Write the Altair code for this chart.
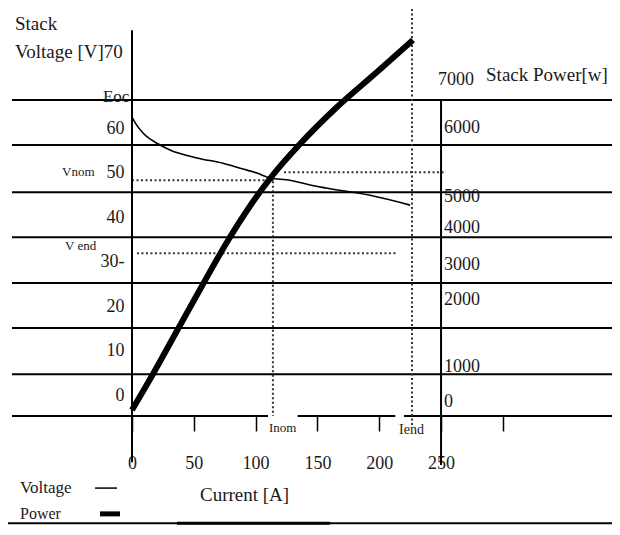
import altair as alt
import pandas as pd

SERIF = "Liberation Serif"
INK = "#1a1a1a"

# ---- curves ----
current_v = [0, 3, 8.9, 20.2, 30.7, 52.6, 73.6, 89.8, 101.1, 111.7, 127.8, 144.0, 157.8, 192.6, 225.0]
voltage = [62.5, 61.0, 58.9, 56.6, 55.1, 53.3, 52.1, 50.8, 49.9, 48.8, 48.3, 47.2, 46.5, 44.9, 42.7]
current_p = [0, 17.0, 37.2, 56.6, 76.9, 95.5, 113.3, 135.9, 165.0, 198.2, 227.3]
power = [160, 1120, 2320, 3467, 4640, 5600, 6400, 7253, 8213, 9173, 10027]

# ---- axis tick values ----
x_ticks = [0, 50, 100, 150, 200, 250, 300]
v_ticks = [0, 10, 20, 30, 40, 50, 60]
power_labels = ["7000", "6000", "5000", "4000", "3000", "2000", "1000", "0"]
power_label_v = [70.8, 60.0, 44.5, 37.5, 29.2, 21.4, 6.3, -1.6]
power_label_i = [247.6, 252.4, 252.4, 252.4, 252.4, 252.4, 252.4, 252.4]

# ---- horizontal grid lines (voltage units) ----
grid_v = [66.3, 56.2, 45.6, 35.5, 25.2, 15.1, 4.7, -4.7, -4.7, -4.7, -28.8]
grid_i1 = [-97.1, -97.1, -97.1, -97.1, -97.1, -97.1, -97.1, -97.1, 134, 220, -107]
grid_i2 = [395, 395, 395, 395, 395, 395, 395, 110, 213, 395, 395]

# ---- dotted marker lines ----
hdot_v = [48.3, 50.1, 31.9]
hdot_i1 = [0, 123, 4]
hdot_i2 = [115, 253, 215]
vdot_i = [114, 226.5]
vdot_v1 = [50.1, 88.8]
vdot_v2 = [-4.7, -6.7]

# ---- solid vertical axis lines ----
vline_i = [0, 250]
vline_v1 = [82.0, 66.3]
vline_v2 = [-15.1, -15.7]

# ---- legend swatches / thick bar ----
sw_v = [-20.9, -26.7, -28.8]
sw_i1 = [-29.9, -25.9, 36.4]
sw_i2 = [-12.1, -9.7, 160]
sw_w = [1.5, 5, 3]

# ---- free text ----
txt = ["Stack", "Voltage [V]70", "Eoc", "Vnom", "V end", "Inom", "Iend",
       "Stack Power[w]", "Current [A]", "Voltage", "Power"]
txt_i = [-94.7, -94.7, -23.5, -56.6, -54.2, 110.8, 216, 286.4, 55.0, -90.6, -90.6]
txt_v = [83.4, 77.1, 67.0, 50.1, 33.5, -7.4, -7.9, 71.9, -22.5, -20.9, -26.7]
txt_size = [19, 19, 17, 13, 13, 13, 14, 19, 19, 17, 16]

X_SCALE = alt.Scale(domain=[0, 388.3], nice=False, zero=False)
V_SCALE = alt.Scale(domain=[-4.7, 87.0], nice=False, zero=False)
P_SCALE = alt.Scale(domain=[0, 10880], nice=False, zero=False)

x_axis = alt.Axis(values=x_ticks, labelExpr="datum.value == 300 ? '' : datum.label",
                  domain=False, grid=False, tickSize=15, tickColor="black", tickWidth=1.5,
                  labelPadding=23, labelFontSize=18, labelFont=SERIF, labelColor=INK,
                  title=None, labelFlush=False, labelOverlap=False)
y_axis = alt.Axis(values=v_ticks, labelExpr="datum.value == 30 ? '30-' : datum.label",
                  domain=False, ticks=False, grid=False, labelPadding=8, labelFontSize=18,
                  labelFont=SERIF, labelColor=INK, title=None, labelOverlap=False,
                  labelBaseline="middle")


def X(f):
    return alt.X(f, type="quantitative", scale=X_SCALE, axis=x_axis)


def V(f):
    return alt.Y(f, type="quantitative", scale=V_SCALE, axis=y_axis)


grid_df = pd.DataFrame({"v": grid_v, "i1": grid_i1, "i2": grid_i2})
grid = alt.Chart(grid_df).mark_rule(color="black", strokeWidth=2, clip=False).encode(
    x=X("i1"), x2="i2", y=V("v"))

hdot_df = pd.DataFrame({"v": hdot_v, "i1": hdot_i1, "i2": hdot_i2})
hdot = alt.Chart(hdot_df).mark_rule(color="#333", strokeWidth=2, strokeDash=[2, 2.5], clip=False).encode(
    x=X("i1"), x2="i2", y=V("v"))

vdot_df = pd.DataFrame({"i": vdot_i, "v1": vdot_v1, "v2": vdot_v2})
vdot = alt.Chart(vdot_df).mark_rule(color="#333", strokeWidth=2, strokeDash=[2, 2.5], clip=False).encode(
    x=X("i"), y=V("v1"), y2="v2")

vline_df = pd.DataFrame({"i": vline_i, "v1": vline_v1, "v2": vline_v2})
vline = alt.Chart(vline_df).mark_rule(color="black", strokeWidth=2, clip=False).encode(
    x=X("i"), y=V("v1"), y2="v2")

sw_df = pd.DataFrame({"v": sw_v, "i1": sw_i1, "i2": sw_i2, "w": sw_w})
swatch = alt.Chart(sw_df).mark_rule(color="black", clip=False).encode(
    x=X("i1"), x2="i2", y=V("v"), strokeWidth=alt.StrokeWidth("w:Q", scale=None))

volt_df = pd.DataFrame({"I": current_v, "V": voltage})
volt = alt.Chart(volt_df).mark_line(color="black", strokeWidth=1.6, interpolate="monotone").encode(
    x=X("I"), y=V("V"))

text_df = pd.DataFrame({"t": txt, "i": txt_i, "v": txt_v, "s": txt_size})
texts = alt.Chart(text_df).mark_text(align="left", baseline="middle", font=SERIF, color=INK, clip=False).encode(
    x=X("i"), y=V("v"), text="t:N", size=alt.Size("s:Q", scale=None))

plab_df = pd.DataFrame({"t": power_labels, "i": power_label_i, "v": power_label_v})
plabels = alt.Chart(plab_df).mark_text(align="left", baseline="middle", font=SERIF, color=INK,
                                       fontSize=18, clip=False).encode(
    x=X("i"), y=V("v"), text="t:N")

main = alt.layer(grid, hdot, vdot, vline, swatch, volt, texts, plabels)

pow_df = pd.DataFrame({"I": current_p, "P": power})
pow_line = alt.Chart(pow_df).mark_line(color="black", strokeWidth=6, interpolate="monotone").encode(
    x=X("I"), y=alt.Y("P:Q", scale=P_SCALE, axis=None))

chart = alt.layer(main, pow_line).resolve_scale(y="independent").properties(
    width=480, height=408,
    padding={"left": 124, "top": 0, "right": 0, "bottom": 110},
    autosize=alt.AutoSizeParams(type="none"),
    background="white",
).configure_view(stroke=None)

chart.save("out.html", embed_options={"renderer": "svg", "actions": False})
